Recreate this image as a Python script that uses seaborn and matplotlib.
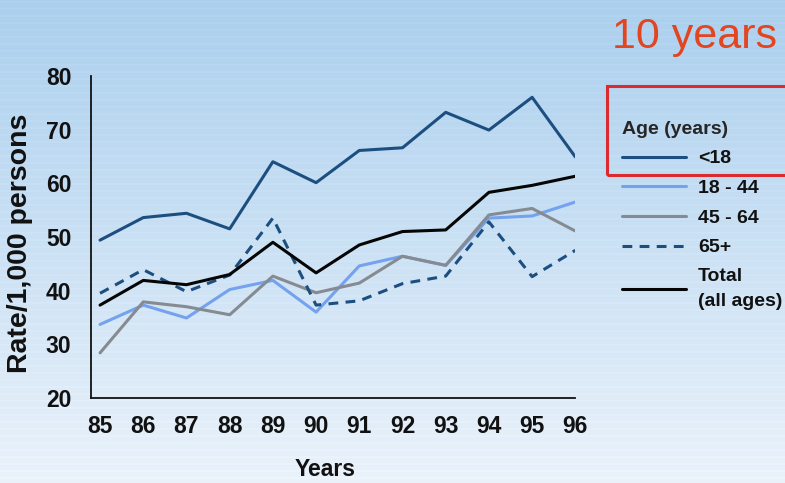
import numpy as np
import pandas as pd
import matplotlib
matplotlib.use("Agg")
import matplotlib.pyplot as plt
import matplotlib.patches as mpatches
import seaborn as sns

# Rates per 1,000 persons by age group, 1985-1996
years = [85, 86, 87, 88, 89, 90, 91, 92, 93, 94, 95, 96]
under_18 = [49.4, 53.6, 54.4, 51.5, 64.0, 60.1, 66.1, 66.6, 73.2, 69.9, 76.0, 64.9]
age_18_44 = [33.7, 37.3, 34.9, 40.2, 41.9, 36.0, 44.6, 46.4, 44.7, 53.5, 53.9, 56.5]
age_45_64 = [28.4, 37.9, 37.0, 35.5, 42.7, 39.6, 41.4, 46.4, 44.7, 54.1, 55.3, 51.1]
age_65_plus = [39.5, 43.9, 39.8, 42.9, 53.5, 37.3, 38.1, 41.3, 42.7, 52.8, 42.6, 47.5]
total = [37.3, 41.9, 41.1, 43.0, 49.0, 43.3, 48.5, 51.0, 51.3, 58.3, 59.6, 61.3]

series_labels = ["<18", "18 - 44", "45 - 64", "65+", "Total\n(all ages)"]
y_ticks = [20, 30, 40, 50, 60, 70, 80]

sns.set_theme(style="white")
plt.rcParams["font.family"] = ["Liberation Sans", "DejaVu Sans"]

fig = plt.figure(figsize=(7.85, 4.83), dpi=100)

# soft blue gradient backdrop with faint horizontal banding
bg = fig.add_axes([0, 0, 1, 1], zorder=-10)
rows = 483
t = np.linspace(0, 1, rows)[:, None]
top = np.array([0.670, 0.812, 0.930])
bottom = np.array([0.918, 0.948, 0.980])
grad = top * (1 - t) + bottom * t
band = (np.sin(np.arange(rows) * 2 * np.pi / 7.0) > 0.6)[:, None] * 0.012
grad = np.clip(grad + band, 0, 1)
bg.imshow(grad[:, None, :].repeat(4, axis=1), aspect="auto", extent=[0, 1, 0, 1])
bg.set_axis_off()

ax = fig.add_axes([0.1159, 0.176, 0.617, 0.667])
ax.set_facecolor("none")

df = pd.DataFrame({
    "year": years * 5,
    "rate": under_18 + age_18_44 + age_45_64 + age_65_plus + total,
    "group": sum([[g] * len(years) for g in series_labels], []),
})

colors = ["#1c4f80", "#74a2ee", "#868b91", "#1c4f80", "#050505"]
styles = ["-", "-", "-", (0, (3.2, 2.4)), "-"]
handles = []
for g, c, ls in zip(series_labels, colors, styles):
    sub = df[df["group"] == g]
    sns.lineplot(data=sub, x="year", y="rate", ax=ax, color=c, linewidth=2.2,
                 linestyle=ls, label=g, legend=False)
    handles.append(ax.lines[-1])

ax.set_xlim(84.79, 96.0)
ax.set_ylim(20, 80)
ax.set_xticks(years)
ax.set_yticks(y_ticks)
ax.set_xticklabels([str(y) for y in years])
for s in ["top", "right"]:
    ax.spines[s].set_visible(False)
for s in ["left", "bottom"]:
    ax.spines[s].set_color("#111111")
    ax.spines[s].set_linewidth(1.3)
ax.tick_params(axis="both", direction="out", length=7, width=1.3, color="#111111",
               labelsize=16.5, labelcolor="#111111")
ax.tick_params(axis="y", pad=7)
ax.tick_params(axis="x", pad=5)
for lab in ax.get_xticklabels() + ax.get_yticklabels():
    lab.set_fontweight("bold")

ax.set_xlabel("Years", fontsize=16.5, fontweight="bold", color="#111111", va="center")
ax.xaxis.set_label_coords(0.483, -0.222)
ax.set_ylabel("Rate/1,000 persons", fontsize=20.5, fontweight="bold", color="#111111",
              va="center")
ax.yaxis.set_label_coords(-0.147, 0.48)

leg = fig.legend(handles=handles, labels=series_labels, title="Age (years)",
                 loc="upper left", bbox_to_anchor=(0.7925, 0.75), frameon=False,
                 fontsize=14, title_fontsize=14, handlelength=3.3,
                 handletextpad=0.6, labelspacing=0.62, borderpad=0, borderaxespad=0)
leg._legend_box.align = "left"
leg.get_title().set_fontweight("bold")
for txt in leg.get_texts():
    txt.set_fontweight("bold")
    txt.set_color("#111111")
    txt.set_linespacing(1.6)

fig.text(0.99, 0.9006, "10 years", ha="right", va="baseline", fontsize=31,
         color="#e2451f")

fig.patches.append(mpatches.Rectangle((0.773, 0.638), 0.26, 0.183, transform=fig.transFigure,
                                      fill=False, edgecolor="#dc2b2e", linewidth=2.2))

fig.savefig("out.png", dpi=100)
